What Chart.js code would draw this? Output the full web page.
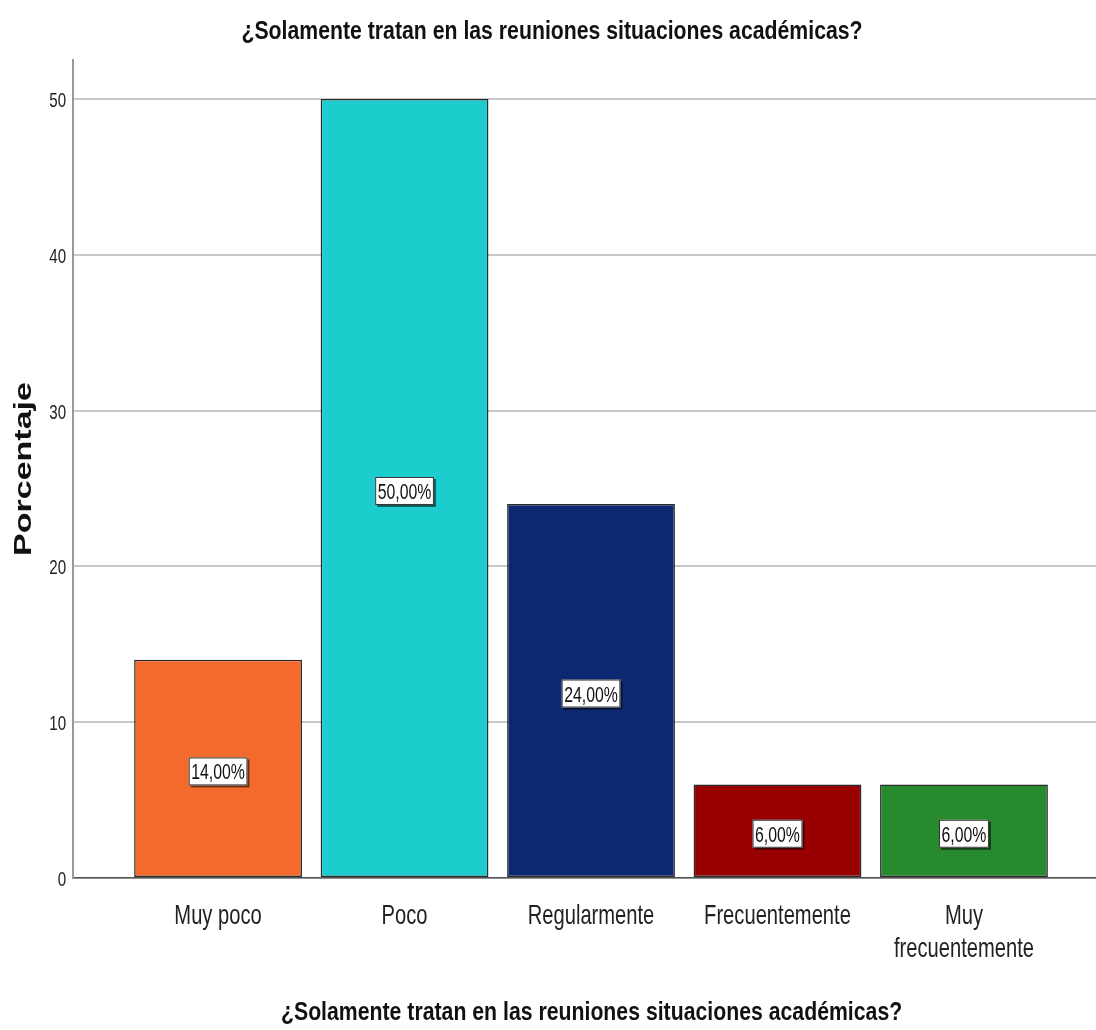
<!DOCTYPE html>
<html>
<head>
<meta charset="utf-8">
<script src="https://cdn.jsdelivr.net/npm/chart.js@4/dist/chart.umd.min.js"></script>
<style>
  html, body { margin: 0; padding: 0; background: #fff; }
  #wrap { width: 1096px; height: 1030px; }
</style>
</head>
<body>
<div id="wrap"><canvas id="chart"></canvas></div>
<script>
const TITLE = '¿Solamente tratan en las reuniones situaciones académicas?';
const Y_TITLE = 'Porcentaje';
const categories = ['Muy poco', 'Poco', 'Regularmente', 'Frecuentemente', ['Muy', 'frecuentemente']];
const percentages = [14, 50, 24, 6, 6];
const barColors = ['#F36A2C', '#1BCDCD', '#0B2870', '#990000', '#278A2E'];
const yTicks = [0, 10, 20, 30, 40, 50];

const NARROW = "'DejaVu Sans Condensed', 'Liberation Sans Narrow', Arial, sans-serif";
const SANS = "'Liberation Sans', Arial, sans-serif";
const SQUISH = 0.72;       // the original texts are horizontally compressed
const TITLE_SQUISH = 0.85;

function squishText(ctx, text, x, y, sx) {
    ctx.save();
    ctx.translate(x, y);
    ctx.scale(sx, 1);
    ctx.fillText(text, 0, 0);
    ctx.restore();
}

// boxed value labels in the middle of each bar
const valueBoxes = {
    id: 'valueBoxes',
    afterDatasetsDraw(chart) {
        const ctx = chart.ctx;
        const meta = chart.getDatasetMeta(0);
        ctx.save();
        ctx.font = '22px ' + SANS;
        ctx.textAlign = 'center';
        ctx.textBaseline = 'alphabetic';
        meta.data.forEach((bar, i) => {
            const text = percentages[i].toFixed(2).replace('.', ',') + '%';
            const cy = (bar.y + bar.base) / 2 + 3;
            const w = ctx.measureText(text).width * SQUISH + 5;
            const h = 28;
            ctx.fillStyle = 'rgba(0,0,0,0.55)';
            ctx.fillRect(bar.x - w / 2 + 2, cy - h / 2 + 2, w, h);
            ctx.fillStyle = '#fff';
            ctx.fillRect(bar.x - w / 2, cy - h / 2, w, h);
            ctx.strokeStyle = '#333';
            ctx.lineWidth = 1;
            ctx.strokeRect(bar.x - w / 2 + 0.5, cy - h / 2 + 0.5, w - 1, h - 1);
            ctx.fillStyle = '#111';
            squishText(ctx, text, bar.x, cy + 8, SQUISH);
        });
        ctx.restore();
    }
};

// compressed titles and tick labels, wide y title, placed from the chart's own scales
const axisTexts = {
    id: 'axisTexts',
    afterDraw(chart) {
        const ctx = chart.ctx;
        const area = chart.chartArea;
        const xs = chart.scales.x;
        const ys = chart.scales.y;
        ctx.save();
        ctx.textBaseline = 'alphabetic';
        ctx.textAlign = 'center';

        ctx.fillStyle = '#111';
        ctx.font = 'bold 25px ' + SANS;
        squishText(ctx, TITLE, chart.width / 2 + 4, area.top - 21, TITLE_SQUISH);
        squishText(ctx, TITLE, (area.left + area.right) / 2 + 7, area.bottom + 142, TITLE_SQUISH);

        ctx.fillStyle = '#222';
        ctx.font = '28px ' + SANS;
        xs.ticks.forEach((t, i) => {
            const px = xs.getPixelForValue(t.value);
            [].concat(categories[i]).forEach((line, k) => {
                squishText(ctx, line, px, area.bottom + 46 + k * 33, SQUISH);
            });
        });

        ctx.font = '21px ' + SANS;
        ctx.textAlign = 'right';
        ys.ticks.forEach((t) => {
            squishText(ctx, String(t.value), area.left - 7, ys.getPixelForValue(t.value) + 8, SQUISH);
        });

        ctx.translate(24, (area.top + area.bottom) / 2);
        ctx.rotate(-Math.PI / 2);
        ctx.scale(1, SQUISH);
        ctx.font = 'bold 34px ' + SANS;
        ctx.textAlign = 'center';
        ctx.textBaseline = 'middle';
        ctx.fillStyle = '#111';
        ctx.fillText(Y_TITLE, 0, 0);
        ctx.restore();
    }
};

new Chart(document.getElementById('chart'), {
    type: 'bar',
    data: {
        datasets: [{
            data: percentages.map((v, i) => ({ x: i, y: v })),
            backgroundColor: barColors,
            borderColor: '#2a2a2a',
            borderWidth: 1.5,
            borderSkipped: false,
            categoryPercentage: 1,
            barPercentage: 0.9
        }]
    },
    options: {
        responsive: true,
        maintainAspectRatio: false,
        animation: false,
        layout: { padding: { left: 0, right: 0, top: 0, bottom: 4 } },
        plugins: {
            legend: { display: false },
            tooltip: { enabled: false },
            title: {
                display: true,
                text: TITLE,
                color: 'rgba(0,0,0,0)',
                font: { family: NARROW, size: 20, weight: 'bold' },
                padding: { top: 18, bottom: 18 }
            }
        },
        scales: {
            x: {
                type: 'linear',
                offset: false,
                min: -0.777,
                max: 4.708,
                afterBuildTicks: (scale) => { scale.ticks = categories.map((c, i) => ({ value: i })); },
                ticks: {
                    callback: (v) => categories[v],
                    color: 'rgba(0,0,0,0)',
                    font: { family: NARROW, size: 20, lineHeight: 1.35 },
                    padding: 16,
                    maxRotation: 0,
                    autoSkip: false
                },
                grid: { display: false },
                border: { display: true, color: '#555', width: 1.5 },
                title: {
                    display: true,
                    text: TITLE,
                    color: 'rgba(0,0,0,0)',
                    font: { family: NARROW, size: 20, weight: 'bold' },
                    padding: { top: 30, bottom: 0 }
                }
            },
            y: {
                min: 0,
                max: 52.5,
                afterBuildTicks: (scale) => { scale.ticks = yTicks.map(v => ({ value: v })); },
                ticks: {
                    color: 'rgba(0,0,0,0)',
                    font: { family: NARROW, size: 15 },
                    padding: 10
                },
                grid: { color: '#c8c8c8', lineWidth: 2, drawTicks: false },
                border: { display: true, color: '#999', width: 2 },
                title: {
                    display: true,
                    text: Y_TITLE,
                    color: 'rgba(0,0,0,0)',
                    font: { family: 'Arial, sans-serif', size: 20, weight: 'bold' },
                    padding: { top: 0, bottom: 12 }
                }
            }
        }
    },
    plugins: [valueBoxes, axisTexts]
});
</script>
</body>
</html>
